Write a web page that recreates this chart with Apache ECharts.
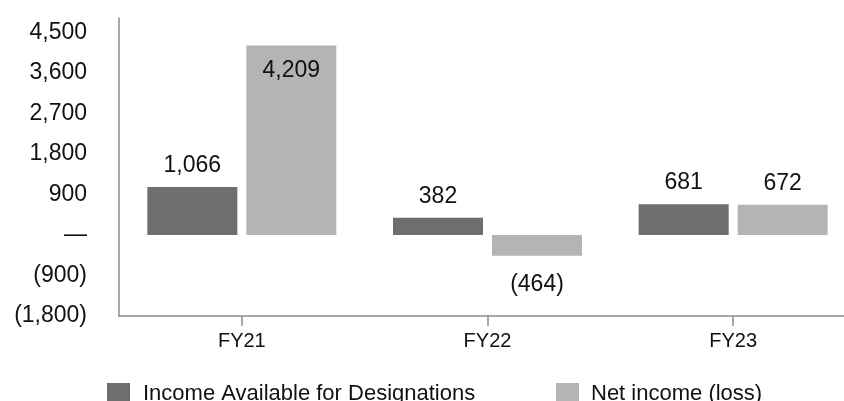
<!DOCTYPE html>
<html>
<head>
<meta charset="utf-8">
<script src="https://cdn.jsdelivr.net/npm/echarts@6/dist/echarts.min.js"></script>
<style>
  html, body { margin: 0; padding: 0; background: #fff; }
  #chart { width: 844px; height: 401px; }
</style>
</head>
<body>
<div id="chart"></div>
<script>
// chart data
var categories = ['FY21', 'FY22', 'FY23'];
var incomeAvailable = [1066, 382, 681];
var netIncome = [4209, -464, 672];
var seriesNames = ['Income Available for Designations', 'Net income (loss)'];

var FONT = '"Liberation Sans", Arial, sans-serif';

// 1,234 / (1,234) / — style numbers
function fmt(v) {
    if (v === 0) return '\u2014';
    var s = Math.abs(v).toString().replace(/\B(?=(\d{3})+(?!\d))/g, ',');
    return v < 0 ? '(' + s + ')' : s;
}

var chart = echarts.init(document.getElementById('chart'));

var labelStyle = {
    show: true,
    position: 'top',
    distance: 10,
    fontFamily: FONT,
    fontSize: 23,
    color: '#111',
    formatter: function (p) { return fmt(p.value); }
};

var options = {
    animation: false,
    grid: { left: 119, top: 18, width: 737, height: 298, outerBoundsMode: 'none' },
    legend: [
        {
            data: [seriesNames[0]], left: 102, top: 378,
            itemWidth: 23, itemHeight: 22,
            icon: 'rect',
            textStyle: { fontFamily: FONT, fontSize: 22, color: '#111', padding: [0, 0, 0, 8] }
        },
        {
            data: [seriesNames[1]], left: 551, top: 378,
            itemWidth: 23, itemHeight: 22,
            icon: 'rect',
            textStyle: { fontFamily: FONT, fontSize: 22, color: '#111', padding: [0, 0, 0, 7] }
        }
    ],
    xAxis: {
        type: 'category',
        data: categories,
        axisLine: { onZero: false, lineStyle: { color: '#8c8c8c', width: 1.5 } },
        axisTick: { show: true, alignWithLabel: true, length: 10, lineStyle: { color: '#8c8c8c', width: 1.5 } },
        axisLabel: { margin: 15, fontFamily: FONT, fontSize: 20, color: '#111' }
    },
    yAxis: {
        type: 'value',
        min: -1800,
        max: 4821,
        interval: 900,
        axisLine: { show: true, onZero: false, lineStyle: { color: '#8c8c8c', width: 1.5 } },
        axisTick: { show: false },
        splitLine: { show: false },
        axisLabel: {
            margin: 32, fontFamily: FONT, fontSize: 23, color: '#111',
            showMaxLabel: false,
            formatter: function (v) { return v % 900 === 0 ? fmt(v) : ''; }
        }
    },
    series: [
        {
            name: seriesNames[0],
            type: 'bar',
            barWidth: 90,
            barGap: '10%',
            itemStyle: { color: '#6e6e6e' },
            label: labelStyle,
            data: incomeAvailable
        },
        {
            name: seriesNames[1],
            type: 'bar',
            barWidth: 90,
            barGap: '10%',
            itemStyle: { color: '#b4b4b4' },
            label: labelStyle,
            data: netIncome.map(function (v, i) {
                if (i === 0) return { value: v, label: { position: 'insideTop', distance: 14 } };
                if (v < 0) return { value: v, label: { position: 'bottom', distance: 17 } };
                return v;
            })
        }
    ]
};

chart.setOption(options);
</script>
</body>
</html>
